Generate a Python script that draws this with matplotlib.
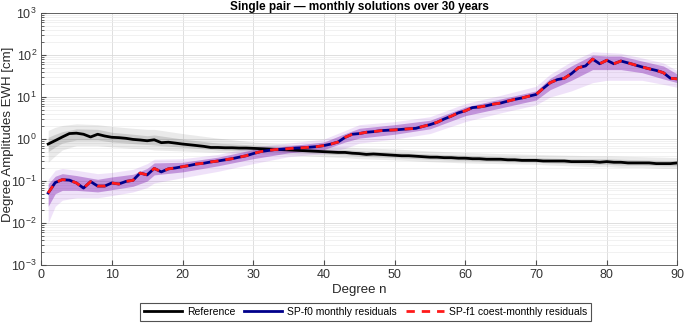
import numpy as np
import matplotlib
matplotlib.use("Agg")
from matplotlib import pyplot as plt

plt.rcParams['font.family'] = ['Liberation Sans', 'DejaVu Sans']

# Degree axis
degree = np.arange(1, 91)

# Mean of the reference degree amplitudes [cm]
reference = [0.76, 0.92, 1.12, 1.35, 1.38, 1.30, 1.12, 1.30, 1.18, 1.10,
             1.08, 1.04, 0.98, 0.95, 0.91, 0.96, 0.82, 0.84, 0.80, 0.76,
             0.73, 0.70, 0.67, 0.63, 0.63, 0.62, 0.62, 0.61, 0.61, 0.60,
             0.59, 0.58, 0.57, 0.56, 0.55, 0.54, 0.53, 0.52, 0.51, 0.50,
             0.49, 0.48, 0.48, 0.46, 0.45, 0.43, 0.44, 0.43, 0.42, 0.41,
             0.40, 0.40, 0.39, 0.38, 0.37, 0.37, 0.36, 0.36, 0.35, 0.35,
             0.34, 0.34, 0.33, 0.33, 0.33, 0.32, 0.32, 0.31, 0.31, 0.31,
             0.30, 0.30, 0.30, 0.30, 0.29, 0.29, 0.29, 0.29, 0.28, 0.29,
             0.28, 0.28, 0.27, 0.27, 0.27, 0.27, 0.26, 0.26, 0.26, 0.27]

# Mean of the monthly residuals [cm] (f0 and f1 coincide)
residual = [0.052, 0.092, 0.108, 0.105, 0.090, 0.068, 0.097, 0.076, 0.076, 0.090,
            0.085, 0.098, 0.104, 0.155, 0.140, 0.200, 0.165, 0.195, 0.205, 0.220,
            0.235, 0.255, 0.265, 0.285, 0.300, 0.320, 0.340, 0.370, 0.400, 0.450,
            0.500, 0.530, 0.560, 0.570, 0.590, 0.610, 0.620, 0.640, 0.660, 0.700,
            0.760, 0.850, 1.10, 1.30, 1.35, 1.45, 1.50, 1.58, 1.62, 1.65,
            1.70, 1.75, 1.80, 2.00, 2.20, 2.50, 3.00, 3.50, 4.20, 4.70,
            5.60, 5.80, 6.20, 6.80, 7.20, 8.00, 8.80, 9.50, 10.5, 11.5,
            16.0, 22.0, 26.0, 28.0, 36.0, 50.0, 55.0, 80.0, 62.0, 75.0,
            62.0, 72.0, 65.0, 58.0, 52.0, 47.0, 43.0, 38.0, 28.0, 27.0]

# Spread of the individual monthly curves, read at a few degrees
band_deg = [1, 2, 3, 5, 8, 10, 13, 15, 16, 20, 25, 30, 35, 40, 43, 45, 50,
            55, 60, 65, 70, 72, 75, 78, 80, 82, 85, 88, 90]
ref_lo_out = [0.28, 0.40, 0.55, 0.70, 0.70, 0.65, 0.60, 0.58, 0.55, 0.52, 0.48, 0.45,
              0.42, 0.38, 0.36, 0.34, 0.32, 0.29, 0.27, 0.26, 0.25, 0.24, 0.23, 0.22,
              0.22, 0.21, 0.21, 0.20, 0.20]
ref_hi_out = [1.60, 1.90, 2.10, 2.30, 2.20, 2.00, 1.80, 1.70, 1.70, 1.35, 1.05, 0.85,
              0.75, 0.68, 0.65, 0.62, 0.58, 0.52, 0.48, 0.45, 0.43, 0.42, 0.41, 0.40,
              0.40, 0.39, 0.38, 0.37, 0.36]
ref_lo_in = [0.50, 0.65, 0.80, 0.95, 0.95, 0.85, 0.78, 0.74, 0.72, 0.64, 0.55, 0.52,
             0.48, 0.44, 0.42, 0.39, 0.36, 0.33, 0.31, 0.29, 0.28, 0.27, 0.26, 0.25,
             0.25, 0.24, 0.24, 0.23, 0.23]
ref_hi_in = [1.10, 1.30, 1.50, 1.75, 1.70, 1.45, 1.30, 1.20, 1.25, 1.00, 0.80, 0.72,
             0.65, 0.58, 0.56, 0.53, 0.48, 0.44, 0.41, 0.38, 0.36, 0.35, 0.34, 0.34,
             0.34, 0.33, 0.32, 0.31, 0.31]
res_lo_out = [0.010, 0.025, 0.035, 0.040, 0.040, 0.045, 0.055, 0.070, 0.090, 0.120,
              0.170, 0.260, 0.380, 0.450, 0.600, 0.800, 1.00, 1.35, 2.60, 4.20, 6.50,
              10.0, 14.0, 22.0, 25.0, 25.0, 25.0, 20.0, 17.0]
res_hi_out = [0.110, 0.180, 0.200, 0.180, 0.150, 0.160, 0.190, 0.260, 0.330, 0.340,
              0.430, 0.650, 0.800, 1.00, 1.60, 2.20, 2.60, 3.40, 7.00, 11.0, 18.0,
              35.0, 70.0, 120.0, 115.0, 110.0, 85.0, 65.0, 42.0]
res_lo_in = [0.025, 0.050, 0.060, 0.060, 0.055, 0.062, 0.075, 0.100, 0.140, 0.165,
             0.230, 0.340, 0.470, 0.560, 0.850, 1.05, 1.30, 1.75, 3.60, 5.50, 8.50,
             15.0, 25.0, 45.0, 45.0, 45.0, 38.0, 27.0, 22.0]
res_hi_in = [0.085, 0.130, 0.150, 0.135, 0.110, 0.125, 0.145, 0.200, 0.270, 0.280,
             0.370, 0.560, 0.690, 0.850, 1.35, 1.80, 2.20, 2.80, 5.80, 9.00, 14.0,
             28.0, 55.0, 100.0, 95.0, 95.0, 72.0, 55.0, 35.0]

fig = plt.figure(figsize=(6.85, 3.26), dpi=100)
ax = fig.add_axes([0.060, 0.187, 0.929, 0.773])

ax.fill_between(band_deg, ref_lo_out, ref_hi_out, color='0.55', alpha=0.18, lw=0)
ax.fill_between(band_deg, ref_lo_in, ref_hi_in, color='0.45', alpha=0.25, lw=0)
ax.fill_between(band_deg, res_lo_out, res_hi_out, color='#9a40d8', alpha=0.15, lw=0)
ax.fill_between(band_deg, res_lo_in, res_hi_in, color='#8020b0', alpha=0.40, lw=0)

ax.plot(degree, reference, color='black', lw=2, label='Reference')
ax.plot(degree, residual, color='#00008b', lw=2, label='SP-f0 monthly residuals')
ax.plot(degree, residual, color='#ff1a1a', lw=2, ls=(0, (3, 2.5)),
        label='SP-f1 coest-monthly residuals')

ax.set_yscale('log')
ax.set_xlim(0, 90)
ax.set_ylim(1e-3, 1e3)
ax.set_xticks(range(0, 91, 10))
ax.set_yticks([1e-3, 1e-2, 1e-1, 1e0, 1e1, 1e2, 1e3])
ax.grid(True, which='major', color='0.85', lw=0.6)
ax.grid(True, which='minor', axis='y', color='0.92', lw=0.5)
ax.set_axisbelow(True)
ax.tick_params(direction='in', which='both', colors='#4d4d4d', labelcolor='#333333',
               labelsize=9, top=False, right=False, pad=3)
for s in ax.spines.values():
    s.set_color('#4d4d4d')
    s.set_linewidth(0.6)

ax.set_xlabel('Degree n', fontsize=9.5, color='#262626', labelpad=2)
ax.set_ylabel('Degree Amplitudes EWH [cm]', fontsize=9.5, color='#262626')
ax.yaxis.set_label_coords(-0.043, 0.52)
ax.set_title('Single pair — monthly solutions over 30 years', fontsize=8.5,
             fontweight='bold', pad=1.5)

leg = ax.legend(loc='center', bbox_to_anchor=(0.51, -0.186), ncol=3,
                fontsize=7.5, frameon=True, fancybox=False, edgecolor='#262626',
                handlelength=3.6, columnspacing=0.9, handletextpad=0.5,
                borderpad=0.35, borderaxespad=0)
leg.get_frame().set_linewidth(0.8)

fig.savefig('out.png', dpi=100)
